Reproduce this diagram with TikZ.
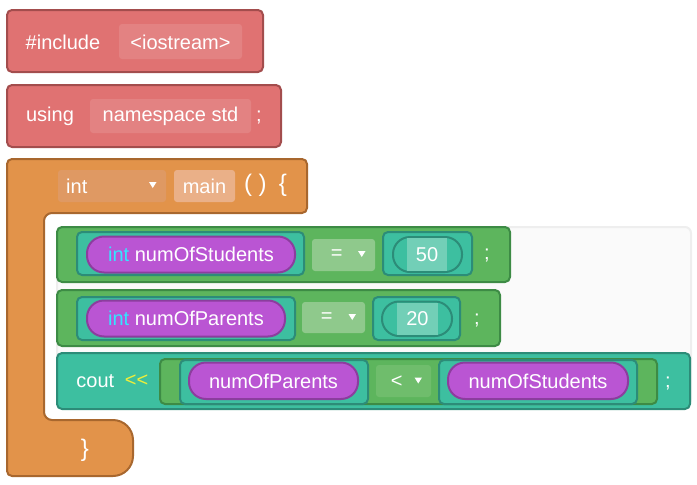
\documentclass[tikz,border=0pt]{standalone}
\usepackage{fontspec}
\setmainfont{Liberation Sans}
\definecolor{redF}{HTML}{E07272}
\definecolor{redS}{HTML}{A34D4D}
\definecolor{redL}{HTML}{E38282}
\definecolor{orF}{HTML}{E2934A}
\definecolor{orS}{HTML}{A8672E}
\definecolor{orL}{HTML}{DF9963}
\definecolor{orM}{HTML}{EAB088}
\definecolor{grF}{HTML}{5DB55D}
\definecolor{grS}{HTML}{3D8B45}
\definecolor{grL}{HTML}{8FC98C}
\definecolor{grM}{HTML}{6FBD6C}
\definecolor{tlF}{HTML}{3DBFA0}
\definecolor{tlS}{HTML}{2C8C78}
\definecolor{tlL}{HTML}{72CFB7}
\definecolor{puF}{HTML}{BA55D3}
\definecolor{puS}{HTML}{8C3D9E}
\definecolor{cyanT}{HTML}{33E6FF}
\definecolor{yelT}{HTML}{EEEE3A}
\definecolor{panF}{HTML}{FAFAFA}
\definecolor{panS}{HTML}{EEEEEE}
\tikzset{
  redblk/.style={fill=redF,draw=redS,line width=2pt,rounded corners=5pt},
  redfld/.style={fill=redL,rounded corners=3pt},
  orblk/.style={fill=orF,draw=orS,line width=2pt},
  grblk/.style={fill=grF,draw=grS,line width=2pt,rounded corners=5pt},
  tlblk/.style={fill=tlF,draw=tlS,line width=2pt,rounded corners=5pt},
  pill/.style={fill=puF,draw=puS,line width=2pt,rounded corners=17pt},
  tlpill/.style={fill=tlF,draw=tlS,line width=2pt,rounded corners=17pt},
  fld/.style={rounded corners=3pt},
  txt/.style={text=white,inner sep=0pt,font=\fontsize{20}{24}\selectfont},
  bigtxt/.style={text=white,inner sep=0pt,font=\fontsize{24}{28}\selectfont},
  tri/.style={fill=white},
}
\begin{document}
\begin{tikzpicture}[x=1pt,y=-1pt]
\useasboundingbox (0,0) rectangle (697,485);
% --- include block
\draw[redblk] (7,10) rectangle (263,72);
\fill[redfld] (119,24) rectangle (242,59);
\node[txt] (inc) at (63,42) {\#include};
\node[txt] (ios) at (180.5,42) {<iostream>};
% --- using block
\draw[redblk] (7,85) rectangle (281,147);
\fill[redfld] (90,99) rectangle (251,133);
\node[txt] (using) at (50,116) {using};
\node[txt] (nsstd) at (170.5,116) {namespace std};
\node[txt] (semi0) at (259,117) {;};
% --- main block (orange C-shape)
\draw[orblk] (7,164) .. controls (7,161.2) and (9.2,159) .. (12,159)
  -- (302,159) .. controls (304.8,159) and (307,161.2) .. (307,164)
  -- (307,208) .. controls (307,210.8) and (304.8,213) .. (302,213)
  -- (52,213) .. controls (47.6,213) and (44,216.6) .. (44,221)
  -- (44,412) .. controls (44,416.4) and (47.6,420) .. (52,420)
  -- (113,420) .. controls (124,420) and (133,429) .. (133,440)
  -- (133,456) .. controls (133,467) and (124,476) .. (113,476)
  -- (12,476) .. controls (9.2,476) and (7,473.8) .. (7,471) -- cycle;
\fill[fld,orL] (58,170) rectangle (166,202);
\node[txt,anchor=west] (inttype) at (66,186) {int};
\fill[tri] (149,182) -- (156.5,182) -- (152.75,188) -- cycle;
\fill[fld,orM] (174,170) rectangle (235,202);
\node[txt] (main) at (204.5,186) {main};
\node[bigtxt] (lpar) at (248,185) {(};
\node[bigtxt] (rpar) at (262.5,185) {)};
\node[bigtxt] (lbrace) at (283,185) {\{};
\node[bigtxt] (rbrace) at (85,450) {\}};
% --- statement panel
\draw[fill=panF,draw=panS,line width=2pt,rounded corners=6pt] (57,227) rectangle (691,405);
% --- row 1
\draw[grblk] (57,227) rectangle (510,282);
\draw[tlblk] (77,232) rectangle (304,275);
\draw[pill] (87,236.5) rectangle (295,272.5);
\node[txt] (v1) at (191,254.5) {\textcolor{cyanT}{int} numOfStudents};
\fill[fld,grL] (312,239) rectangle (375,271);
\node[txt] (eq1) at (336.7,254.5) {=};
\fill[tri] (358,251) -- (365.5,251) -- (361.75,257) -- cycle;
\draw[tlblk] (383,232) rectangle (472,275);
\draw[tlpill] (393,237) rectangle (462,272);
\fill[tlL] (407,238.2) rectangle (447,270.8);
\node[txt] (n50) at (427,254.5) {50};
\node[txt] (semi1) at (487,255) {;};
% --- row 2
\draw[grblk] (57,290) rectangle (500,346);
\draw[tlblk] (77,297) rectangle (295,340);
\draw[pill] (87,300.5) rectangle (285,336.5);
\node[txt] (v2) at (186,318.5) {\textcolor{cyanT}{int} numOfParents};
\fill[fld,grL] (302,302) rectangle (365,333);
\node[txt] (eq2) at (326.7,317.5) {=};
\fill[tri] (348.5,314) -- (356,314) -- (352.25,320) -- cycle;
\draw[tlblk] (373,297) rectangle (460,340);
\draw[tlpill] (382,301.5) rectangle (452,336);
\fill[tlL] (397,302.7) rectangle (438,334.8);
\node[txt] (n20) at (417.5,318.5) {20};
\node[txt] (semi2) at (477,320) {;};
% --- row 3 (cout)
\draw[tlblk] (57,353) rectangle (690,409);
\node[txt] (cout) at (95.3,381) {cout};
\node[txt] (shl) at (136.5,381) {\textcolor{yelT}{<{}<}};
\draw[grblk] (160,359) rectangle (657,404);
\draw[tlblk] (180,360) rectangle (368,404);
\draw[pill] (189,362.5) rectangle (358,399);
\node[txt] (a1) at (273.5,381) {numOfParents};
\fill[fld,grM] (376,365) rectangle (431,397);
\node[txt] (lt) at (396.7,381.5) {<};
\fill[tri] (414.5,377.5) -- (422,377.5) -- (418.25,383.5) -- cycle;
\draw[tlblk] (439,360) rectangle (637,404);
\draw[pill] (448,362.5) rectangle (628,399);
\node[txt] (a2) at (538,381) {numOfStudents};
\node[txt] (semi3) at (668,383) {;};
\end{tikzpicture}
\end{document}
